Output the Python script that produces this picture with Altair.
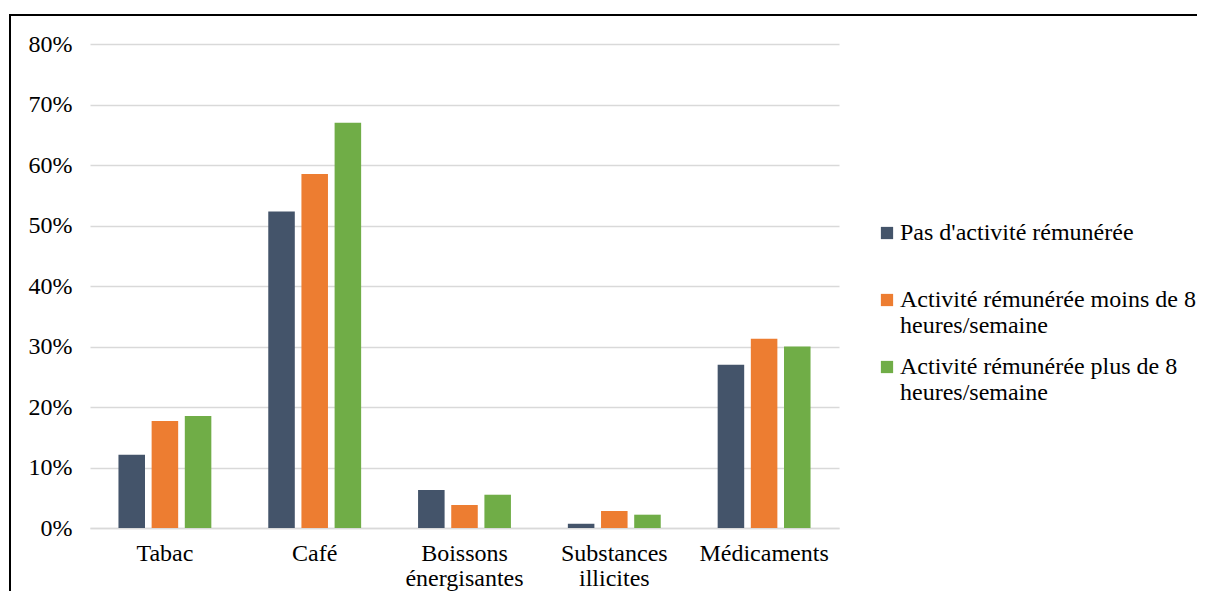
import altair as alt
import pandas as pd

categories = ["Tabac", "Café", "Boissons énergisantes", "Substances illicites", "Médicaments"]
series = [
    "Pas d'activité rémunérée",
    "Activité rémunérée moins de 8 heures/semaine",
    "Activité rémunérée plus de 8 heures/semaine",
]
no_activity = [12.1, 52.3, 6.3, 0.7, 27.0]
under_8h = [17.7, 58.5, 3.8, 2.8, 31.3]
over_8h = [18.5, 67.0, 5.5, 2.2, 30.0]
colors = ["#44546A", "#ED7D31", "#70AD47"]
y_ticks = [0, 0.1, 0.2, 0.3, 0.4, 0.5, 0.6, 0.7, 0.8]

rows = []
for s, vals in zip(series, [no_activity, under_8h, over_8h]):
    for c, v in zip(categories, vals):
        rows.append({"cat": c, "series": s, "value": v / 100.0})
df = pd.DataFrame(rows)

FONT = "Liberation Serif"
FS = 24
GRID = "#d9d9d9"

bars = alt.Chart(df).mark_bar().encode(
    x=alt.X(
        "cat:N",
        sort=categories,
        scale=alt.Scale(paddingInner=0.38, paddingOuter=0.19),
        axis=alt.Axis(
            title=None, labelAngle=0, labelFont=FONT, labelFontSize=FS,
            labelColor="black", labelPadding=13, labelLineHeight=25,
            ticks=False, domainColor=GRID, domainWidth=1.5,
            labelExpr="indexof(datum.label, ' ') > 0 ? split(datum.label, ' ') : datum.label",
        ),
    ),
    xOffset=alt.XOffset("series:N", sort=series,
                        scale=alt.Scale(paddingInner=0.2, paddingOuter=0)),
    y=alt.Y(
        "value:Q",
        scale=alt.Scale(domain=[0, 0.8], nice=False),
        axis=alt.Axis(
            title=None, format=".0%", values=y_ticks, grid=True,
            gridColor=GRID, gridWidth=1.5, domain=False, ticks=False,
            labelPadding=18, labelFont=FONT, labelFontSize=FS, labelColor="black",
        ),
    ),
    color=alt.Color(
        "series:N",
        sort=series,
        scale=alt.Scale(domain=series, range=colors),
        legend=alt.Legend(
            title=None, orient="none", legendX=785, legendY=177,
            symbolType="square", symbolSize=150, symbolStrokeWidth=0,
            labelFont=FONT, labelFontSize=FS, labelColor="black",
            labelLimit=400, labelOffset=1,
            rowPadding=17, padding=0,
            labelExpr="indexof(datum.label, ' heures') > 0 ? [substring(datum.label, 0, indexof(datum.label, ' heures')), substring(datum.label, indexof(datum.label, ' heures') + 1)] : [datum.label, ' ']",
        ),
    ),
)

frame_df = pd.DataFrame({"frame": [0]})
top_line = alt.Chart(frame_df).mark_rule(color="black", strokeWidth=2).encode(
    x=alt.value(-80), x2=alt.value(1110), y=alt.value(-29)
)
left_line = alt.Chart(frame_df).mark_rule(color="black", strokeWidth=2).encode(
    x=alt.value(-80), y=alt.value(-30), y2=alt.value(549)
)

chart = alt.layer(top_line, left_line, bars).properties(
    width=749, height=484,
    autosize=alt.AutoSizeParams(type="none"),
    padding={"left": 82, "top": 36, "right": 358, "bottom": 63},
).configure(font=FONT).configure_view(stroke=None)

chart.save("out.html", embed_options={"renderer": "svg", "actions": False})
